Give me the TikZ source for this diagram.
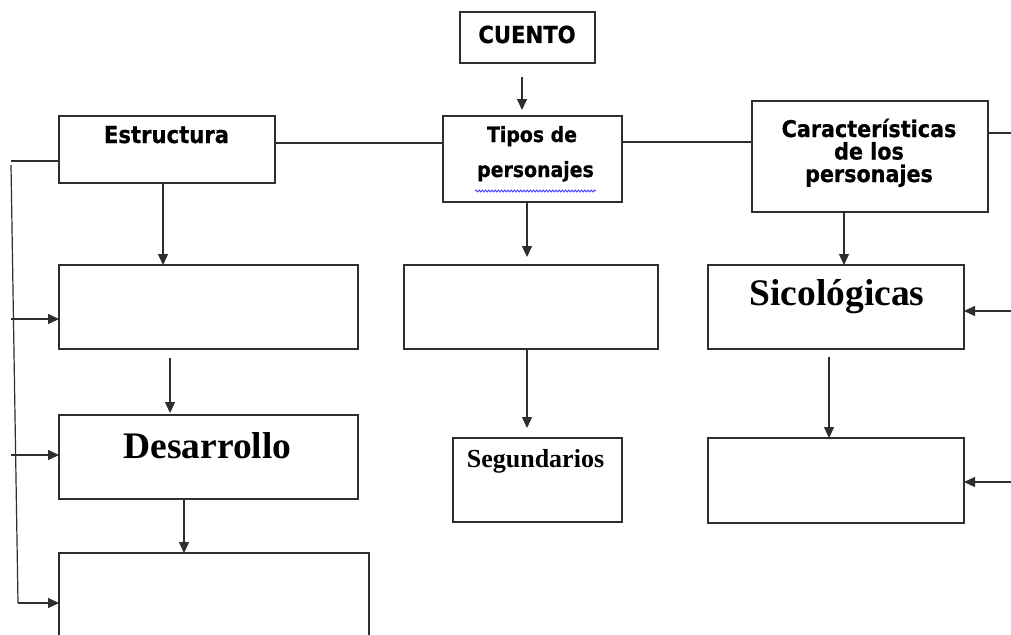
\documentclass[tikz,border=0pt]{standalone}
\usepackage{fontspec}
\usetikzlibrary{arrows.meta,decorations.pathmorphing}
\newfontfamily\sansb{DejaVu Sans}[FakeStretch=0.9,FakeBold=0.6]
\newfontfamily\serifb{Liberation Serif}
\begin{document}
\begin{tikzpicture}[x=1pt,y=-1pt,
  ln/.style={line width=1.2pt,draw=black!82},
  arr/.style={ln,-{Triangle[length=11pt,width=10pt]}},
  box/.style={ln,rectangle,inner sep=0pt,outer sep=0pt},
  lbl/.style={inner sep=0pt,outer sep=0pt,anchor=base,text=black}]
\clip (0,0) rectangle (1011,634);
\fill[white] (0,0) rectangle (1011,634);
% boxes
\node[box,minimum width=135pt,minimum height=51pt] (cuento) at (527.5,37.5) {};
\node[box,minimum width=216pt,minimum height=67pt] (estr) at (167,149.5) {};
\node[box,minimum width=179pt,minimum height=86pt] (tipos) at (532.5,159) {};
\node[box,minimum width=236pt,minimum height=111pt] (carac) at (870,156.5) {};
\node[box,minimum width=299pt,minimum height=84pt] (b2) at (208.5,307) {};
\node[box,minimum width=299pt,minimum height=84pt] (desa) at (208.5,457) {};
\node[box,minimum width=310pt,minimum height=100pt] (b4) at (214,603) {};
\node[box,minimum width=254pt,minimum height=84pt] (mid) at (531,307) {};
\node[box,minimum width=169pt,minimum height=84pt] (seg) at (537.5,480) {};
\node[box,minimum width=256pt,minimum height=84pt] (sico) at (836,307) {};
\node[box,minimum width=256pt,minimum height=85pt] (br) at (836,480.5) {};
% texts
\node[lbl,font=\sansb\bfseries\fontsize{23.5}{24}\selectfont] (tcuento) at (527,43) {CUENTO};
\node[lbl,font=\sansb\bfseries\fontsize{23.5}{24}\selectfont] (testr) at (166.5,143) {Estructura};
\node[lbl,font=\sansb\bfseries\fontsize{21}{21}\selectfont] (ttipos1) at (532,142) {Tipos de};
\node[lbl,font=\sansb\bfseries\fontsize{21}{21}\selectfont] (ttipos2) at (535.5,177) {personajes};
\node[lbl,align=center,font=\sansb\bfseries\fontsize{23}{22.5}\selectfont] (tcarac) at (869,182) {Características\\de los\\personajes};
\node[lbl,font=\serifb\bfseries\fontsize{37.5}{40}\selectfont] (tdesa) at (207.5,458) {Desarrollo};
\node[lbl,font=\serifb\bfseries\fontsize{37.5}{40}\selectfont] (tsico) at (837,305) {Sicológicas};
\node[lbl,font=\serifb\bfseries\fontsize{26}{28}\selectfont] (tseg) at (535.5,467) {Segundarios};
% wavy spell-check underline
\draw[blue!75,line width=0.9pt,decorate,decoration={snake,segment length=3.2pt,amplitude=0.9pt}] (475,191) -- (596,191);
% helper coordinates
\coordinate (xa) at (522,0);
\coordinate (ya) at (0,143);
\coordinate (yb) at (0,142);
\coordinate (rc) at (1011,133);
\coordinate (lt) at (11,161);
\coordinate (vt) at (11,165);
\coordinate (vb) at (18,603);
\coordinate (l1) at (11,319);
\coordinate (l2) at (11,455);
\coordinate (x1) at (163,0);
\coordinate (x2) at (170,0);
\coordinate (x3) at (184,0);
\coordinate (x4) at (527,0);
\coordinate (x5) at (844,0);
\coordinate (x6) at (829,0);
\coordinate (r1) at (1011,311);
\coordinate (r2) at (1011,482);
% connectors
\draw[arr,shorten <=14pt,shorten >=6pt] (cuento.south -| xa) -- (tipos.north -| xa);
\draw[ln] (estr.east |- ya) -- (tipos.west |- ya);
\draw[ln] (tipos.east |- yb) -- (carac.west |- yb);
\draw[ln] (carac.east |- rc) -- (rc);
\draw[ln] (estr.west |- lt) -- (lt);
\draw[ln] (vt) -- (vb);
\draw[arr] (l1) -- (b2.west |- l1);
\draw[arr] (l2) -- (desa.west |- l2);
\draw[arr] (vb) -- (b4.west |- vb);
\draw[arr] (estr.south -| x1) -- (b2.north -| x1);
\draw[arr,shorten <=9pt,shorten >=2pt] (b2.south -| x2) -- (desa.north -| x2);
\draw[arr] (desa.south -| x3) -- (b4.north -| x3);
\draw[arr,shorten >=8pt] (tipos.south -| x4) -- (mid.north -| x4);
\draw[arr,shorten >=10pt] (mid.south -| x4) -- (seg.north -| x4);
\draw[arr] (carac.south -| x5) -- (sico.north -| x5);
\draw[arr] (r1) -- (sico.east |- r1);
\draw[arr,shorten <=8pt] (sico.south -| x6) -- (br.north -| x6);
\draw[arr] (r2) -- (br.east |- r2);
\end{tikzpicture}
\end{document}
